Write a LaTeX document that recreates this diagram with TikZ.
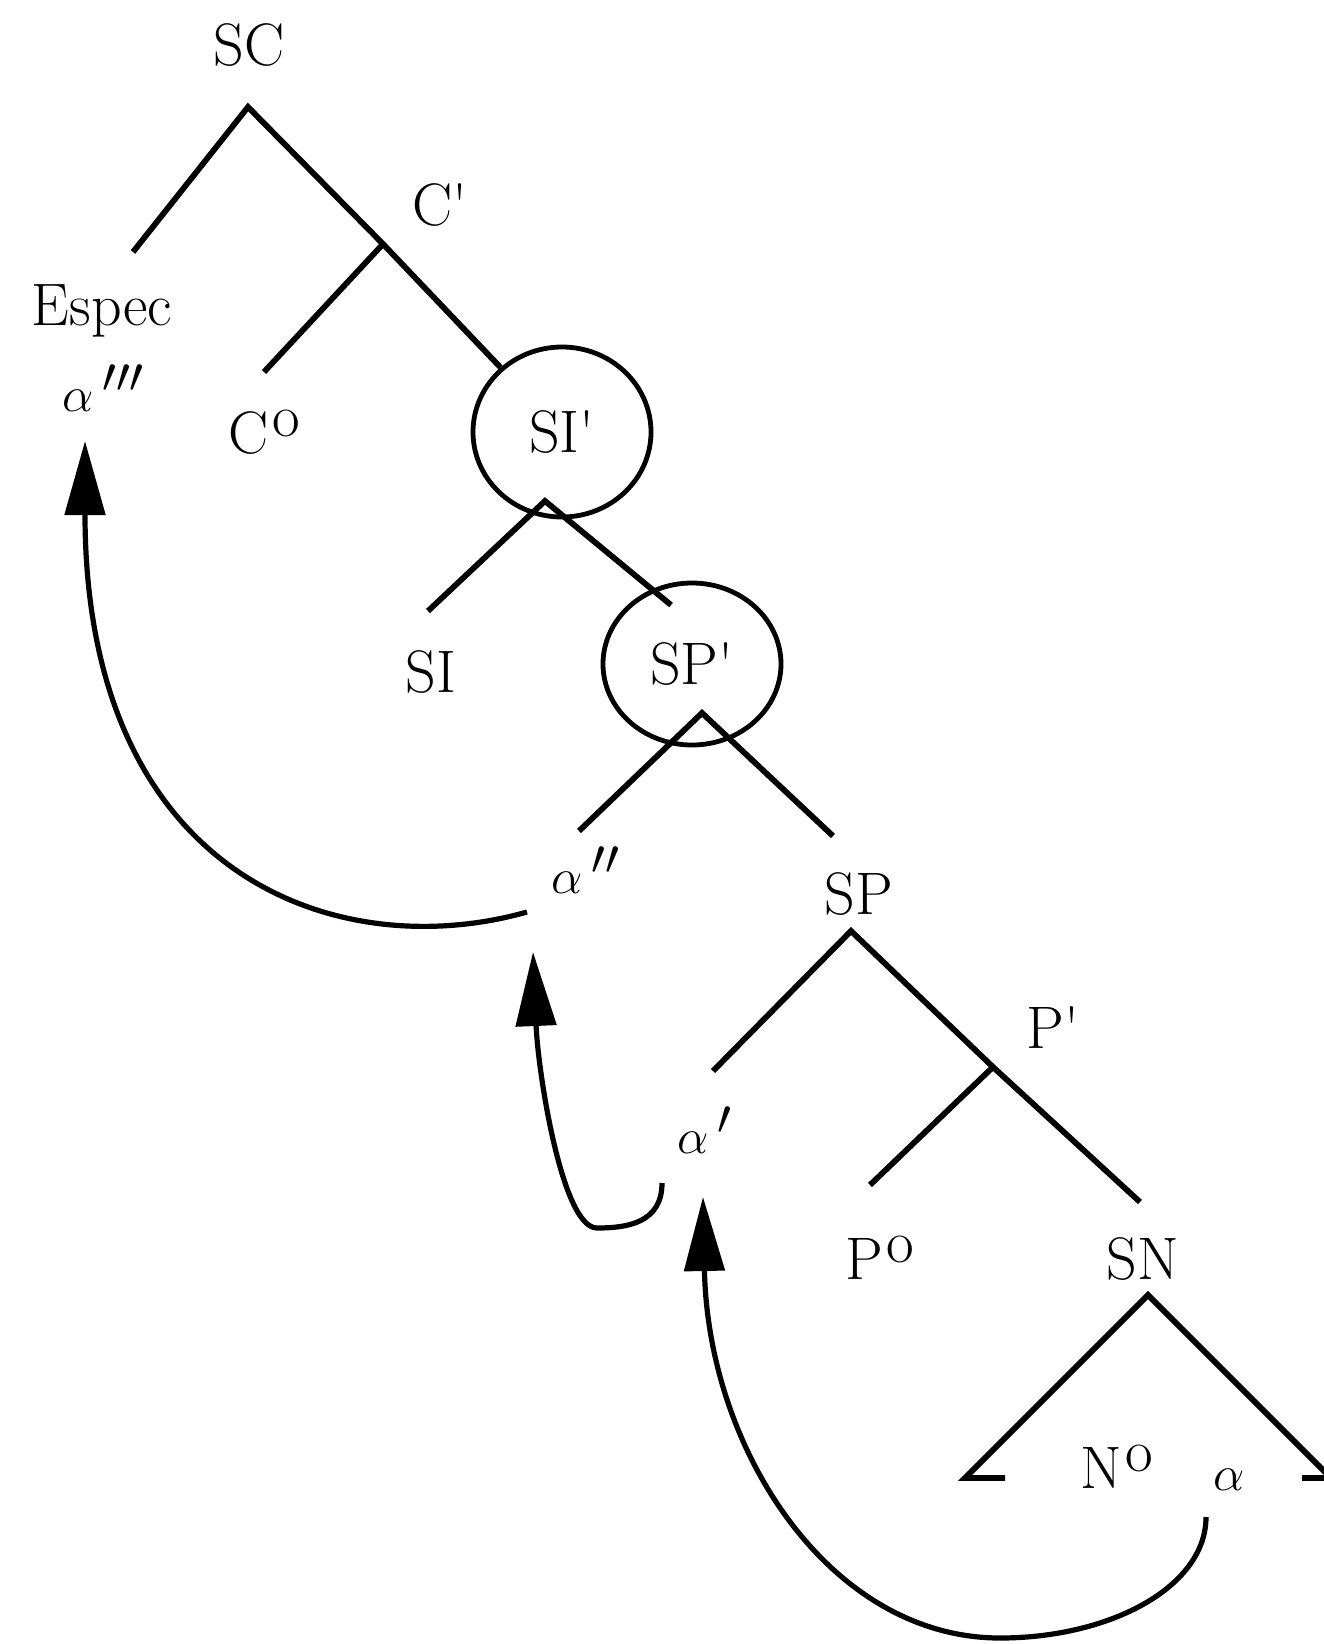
\documentclass[tikz,border=0pt]{standalone}
\usepackage{tikz}
\usetikzlibrary{arrows.meta}
\usetikzlibrary{shapes}
\usetikzlibrary{calc}
\usetikzlibrary{positioning}

\newcommand{\supo}{\hspace{.06em}\raisebox{.28em}{o}}
\newcommand{\tick}{\textquotesingle}

\begin{document}
\begin{tikzpicture}[x=0.5pt, y=-0.5pt, line width=2.9pt,
  lbl/.style={inner sep=0pt, anchor=base, font=\fontsize{30}{33}\selectfont},
  alf/.style={inner sep=0pt, anchor=base west, font=\fontsize{35}{38}\selectfont},
  ring/.style={draw, ellipse, inner sep=0pt, line width=2.4pt,
    font=\fontsize{30}{33}\selectfont},
  move/.style={line width=2.6pt, -{Triangle[length=37pt,width=20pt]}}]
\useasboundingbox (0,0) rectangle (1323,1644);

%SC
\node[lbl] (sc) at (249,65) {SC};
\node[lbl] (cbar) at (440,225) {C\tick};
\node[lbl] (spec) at (102,325) {Espec};
\node[alf] (a3) at (60,411) {$\alpha\,{}'''$};
\node[lbl] (c0) at (264,453) {C\supo};
\coordinate (sc-top) at (248,107);
\coordinate (spec-end) at (133,252);
\coordinate (cbar-j) at (383,244);
\coordinate (c0-end) at (264,372);

%SI'
\node[ring, minimum width=89pt, minimum height=85pt] (sibar) at (562,432) {SI\tick};
\node[lbl] (si) at (431,692) {SI};
\coordinate (sibar-top) at (545,501);
\coordinate (si-end) at (428,611);
\coordinate (spbar-end) at (671,605);

%SP'
\node[ring, minimum width=89pt, minimum height=81pt] (spbar) at (692,664) {SP\tick};
\node[alf] (a2) at (549,893) {$\alpha\,{}''$};
\node[lbl] (sp) at (859,914) {SP};
\coordinate (spbar-top) at (702,713);
\coordinate (a2-end) at (579,831);
\coordinate (sp-end) at (833,836);

%SP
\node[lbl] (pbar) at (1053,1048) {P\tick};
\node[alf] (a1) at (675,1153) {$\alpha\,{}'$};
\node[lbl] (p0) at (880,1279) {P\supo};
\node[lbl] (sn) at (1143,1279) {SN};
\coordinate (sp-top) at (851,931);
\coordinate (a1-end) at (713,1071);
\coordinate (pbar-j) at (993,1067);
\coordinate (p0-end) at (870,1185);
\coordinate (sn-end) at (1140,1202);

%SN
\node[lbl] (n0) at (1117,1488) {N\supo};
\node[alf] (a0) at (1211,1490) {$\alpha$};
\coordinate (sn-top) at (1148,1295);
\coordinate (sn-l) at (965,1478);
\coordinate (sn-lf) at (1005,1478);
\coordinate (sn-r) at (1331,1478);
\coordinate (sn-rf) at (1302,1478);

% branches
\draw (spec-end) -- (sc-top) -- (cbar-j) -- (sibar);
\draw (cbar-j) -- (c0-end);
\draw (si-end) -- (sibar-top) -- (spbar-end);
\draw (a2-end) -- (spbar-top) -- (sp-end);
\draw (a1-end) -- (sp-top) -- (pbar-j) -- (sn-end);
\draw (pbar-j) -- (p0-end);
\draw (sn-lf) -- (sn-l) -- (sn-top) -- (sn-r) -- (sn-rf);

% movement
\draw[move] ($(a0.base west)+(-5,27)$) .. controls +(0,70) and +(110,0) .. ++(-206,121)
  .. controls +(-170,0) and +(5,253) .. ($(a1.base west)+(28,44)$);
\draw[move] ($(a1.base west)+(-13,30)$) .. controls +(0,40) and +(30,0) .. ++(-65,45)
  .. controls +(-35,0) and +(5,120) .. ($(a2.base west)+(-16,59)$);
\draw[move] ($(a2.base west)+(-22,19)$) .. controls +(-187,53) and +(0,439)
  .. ($(a3.base west)+(25,30)$);
\end{tikzpicture}
\end{document}
